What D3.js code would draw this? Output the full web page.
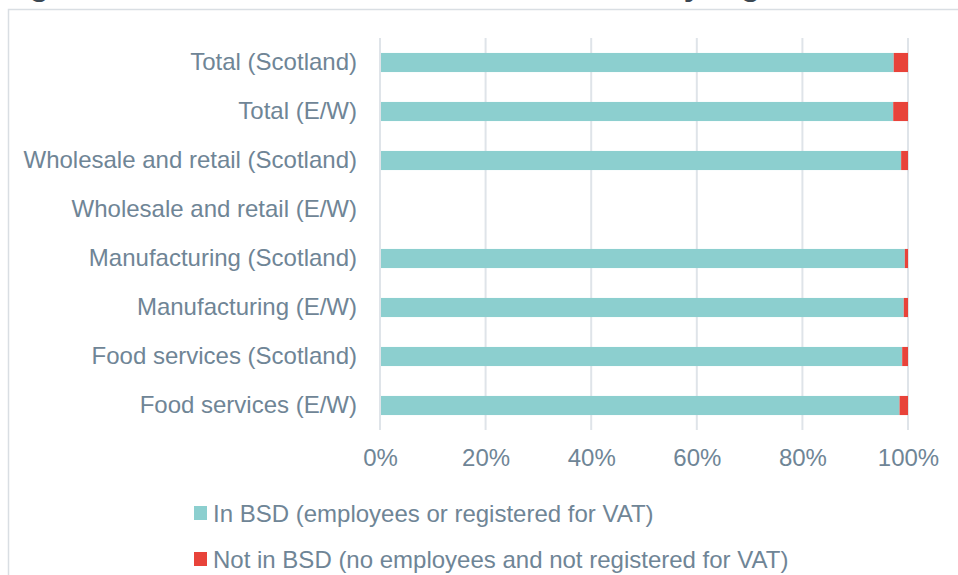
<!DOCTYPE html>
<html>
<head>
<meta charset="utf-8">
<script src="https://cdn.jsdelivr.net/npm/d3@7"></script>
<style>
  body { margin: 0; background: #fff; }
  svg { display: block; font-family: "Liberation Sans", Arial, sans-serif; }
</style>
</head>
<body>
<script>
var categories = [
    'Total (Scotland)',
    'Total (E/W)',
    'Wholesale and retail (Scotland)',
    'Wholesale and retail (E/W)',
    'Manufacturing (Scotland)',
    'Manufacturing (E/W)',
    'Food services (Scotland)',
    'Food services (E/W)'
];
var inBSD = [97.3, 97.2, 98.7, null, 99.4, 99.2, 98.9, 98.4];
var notInBSD = [2.7, 2.8, 1.3, null, 0.6, 0.8, 1.1, 1.6];
var seriesNames = ['In BSD (employees or registered for VAT)', 'Not in BSD (no employees and not registered for VAT)'];
var seriesColors = ['#8ccfcf', '#e8433a'];
var xTicks = [0, 20, 40, 60, 80, 100];
var title = 'Figure 4: Businesses in and not in the BSD by region';

var width = 958;
var height = 575;
var textColor = '#6f8596';
var fontSize = 24;

var svg = d3.select('body')
    .append('svg')
    .attr('width', width)
    .attr('height', height);

// title is cut off at the top of the picture, only descenders show
svg.append('text')
    .attr('x', 1)
    .attr('y', -5.5)
    .attr('font-size', 32)
    .attr('font-weight', 'bold')
    .attr('fill', '#3b4752')
    .text(title);

// chart frame
svg.append('rect')
    .attr('x', 8.5)
    .attr('y', 9.5)
    .attr('width', 980)
    .attr('height', 620)
    .attr('fill', 'none')
    .attr('stroke', '#d9dee3')
    .attr('stroke-width', 1.5);

var x = d3.scaleLinear().domain([0, 100]).range([380, 908]);
var y = d3.scaleBand().domain(categories).range([38, 430])
    .paddingInner(0.61).paddingOuter(0.305);

// gridlines
svg.append('g').selectAll('line')
    .data(xTicks)
    .enter()
    .append('line')
    .attr('x1', function (d) { return x(d); })
    .attr('x2', function (d) { return x(d); })
    .attr('y1', 38)
    .attr('y2', 430)
    .attr('stroke', '#dfe4e9')
    .attr('stroke-width', 2);

var rows = categories.map(function (c, i) {
    return { cat: c, a: inBSD[i], b: notInBSD[i] };
}).filter(function (d) { return d.a !== null; });

var stack = d3.stack().keys(['a', 'b']);
var layers = stack(rows);

svg.append('g').selectAll('g')
    .data(layers)
    .enter()
    .append('g')
    .attr('fill', function (d, i) { return seriesColors[i]; })
    .selectAll('rect')
    .data(function (d) { return d; })
    .enter()
    .append('rect')
    .attr('x', function (d) { return x(d[0]) + (d[0] === 0 ? 1 : 0); })
    .attr('y', function (d) { return y(d.data.cat); })
    .attr('width', function (d) { return x(d[1]) - x(d[0]) - (d[0] === 0 ? 1 : 0); })
    .attr('height', y.bandwidth());

// category labels
var yAxis = d3.axisLeft(y).tickSize(0).tickPadding(23);
var gy = svg.append('g')
    .attr('transform', 'translate(380,0)')
    .call(yAxis);
gy.select('.domain').remove();
gy.selectAll('text')
    .attr('font-size', fontSize)
    .attr('font-family', '"Liberation Sans", Arial, sans-serif')
    .attr('fill', textColor)
    .attr('dy', '0.3em');

// x tick labels
var xAxis = d3.axisBottom(x).tickValues(xTicks).tickSize(0).tickPadding(0)
    .tickFormat(function (d) { return d + '%'; });
var gx = svg.append('g')
    .attr('transform', 'translate(0,448)')
    .call(xAxis);
gx.select('.domain').remove();
gx.selectAll('text')
    .attr('font-size', fontSize)
    .attr('font-family', '"Liberation Sans", Arial, sans-serif')
    .attr('fill', textColor)
    .attr('dy', '0.75em');

// legend
var legend = svg.append('g').selectAll('g')
    .data(seriesNames)
    .enter()
    .append('g')
    .attr('transform', function (d, i) { return 'translate(194,' + (522 + i * 46) + ')'; });

legend.append('rect')
    .attr('x', 0)
    .attr('y', -16)
    .attr('width', 13)
    .attr('height', 14)
    .attr('fill', function (d, i) { return seriesColors[i]; });

legend.append('text')
    .attr('x', 19)
    .attr('y', 0)
    .attr('font-size', fontSize)
    .attr('fill', textColor)
    .text(function (d) { return d; });
</script>
</body>
</html>
